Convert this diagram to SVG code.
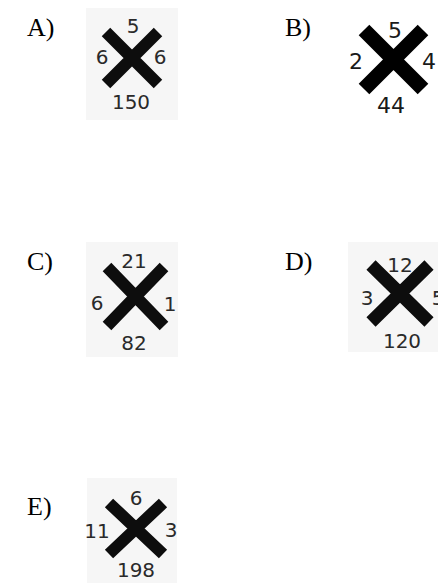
<svg xmlns="http://www.w3.org/2000/svg" width="438" height="583" viewBox="0 0 438 583">
<style>
.lbl{font-family:"Liberation Serif","Times New Roman",serif;font-size:26px;fill:#000}
.n{font-family:"DejaVu Sans","Liberation Sans",sans-serif;font-size:20px;fill:#2a2a2a;text-anchor:middle}
.nb{font-family:"DejaVu Sans","Liberation Sans",sans-serif;font-size:22px;fill:#1a1a1a;text-anchor:middle}
.x{stroke:#0d0d0d;stroke-width:12;stroke-linecap:butt;fill:none}
.bg{fill:#f6f6f6}
</style>
<rect width="438" height="583" fill="#fff"/>
<g id="optA">
<text class="lbl" x="27" y="36">A)</text>
<rect class="bg" x="86" y="8" width="92" height="112"/>
<path class="x" d="M106 32L158 84M158 32L106 84"/>
<text class="n" x="133" y="33">5</text>
<text class="n" x="102" y="64">6</text>
<text class="n" x="160" y="64">6</text>
<text class="n" x="131" y="109">150</text>
</g>
<g id="optB">
<text class="lbl" x="285" y="36">B)</text>
<path class="x" style="stroke-width:15;stroke:#000" d="M364 30L423 89M423 30L364 89"/>
<text class="nb" x="395" y="38">5</text>
<text class="nb" x="356" y="69">2</text>
<text class="nb" x="429" y="69">4</text>
<text class="nb" x="391" y="113">44</text>
</g>
<g id="optC">
<text class="lbl" x="27" y="270">C)</text>
<rect class="bg" x="86" y="242" width="92" height="115"/>
<path class="x" d="M107 267L164 326M164 267L107 326"/>
<text class="n" x="134" y="268">21</text>
<text class="n" x="97" y="310">6</text>
<text class="n" x="170" y="311">1</text>
<text class="n" x="134" y="350">82</text>
</g>
<g id="optD">
<text class="lbl" x="285" y="270">D)</text>
<rect class="bg" x="348" y="242" width="90" height="110"/>
<path class="x" style="stroke-width:13" d="M371 265L429 322M429 265L371 322"/>
<text class="n" x="400" y="272">12</text>
<text class="n" x="367" y="305">3</text>
<text class="n" x="438" y="305">5</text>
<text class="n" x="402" y="348">120</text>
</g>
<g id="optE">
<text class="lbl" x="27" y="515">E)</text>
<rect class="bg" x="87" y="478" width="90" height="105"/>
<path class="x" d="M109 503L163 554M163 503L109 554"/>
<text class="n" x="136" y="505">6</text>
<text class="n" x="97" y="538">11</text>
<text class="n" x="171" y="537">3</text>
<text class="n" x="136" y="577">198</text>
</g>
</svg>
